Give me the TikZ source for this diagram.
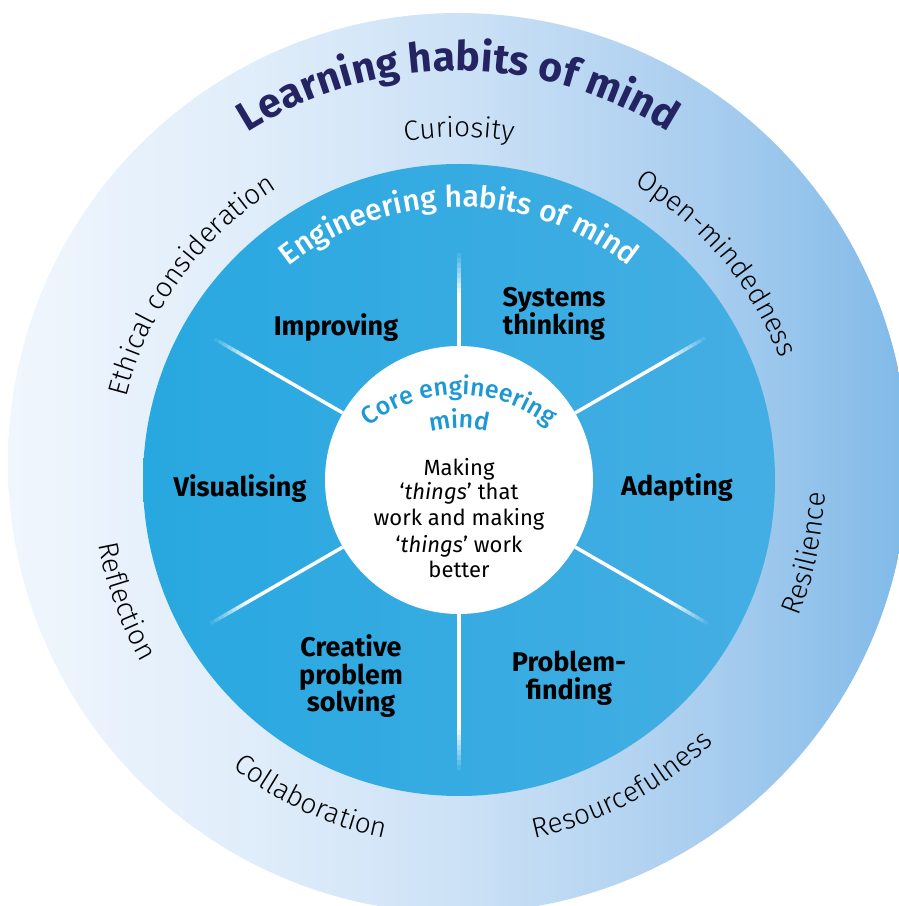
\documentclass[tikz,border=0pt]{standalone}
\usepackage{fontspec}
\setmainfont{Fira Sans}
\newfontfamily\lightfont{Fira Sans Light}
\newfontfamily\medfont{Fira Sans Medium}
\usetikzlibrary{decorations.text}
\definecolor{navy}{RGB}{37,36,98}
\definecolor{coreblue}{RGB}{28,152,213}
\definecolor{engL}{RGB}{40,168,224}
\definecolor{engR}{RGB}{68,174,227}
\definecolor{ringA}{RGB}{240,246,253}
\definecolor{ringB}{RGB}{224,237,250}
\definecolor{ringC}{RGB}{205,226,246}
\definecolor{ringD}{RGB}{170,206,239}
\definecolor{ringE}{RGB}{128,186,232}
\pgfdeclarehorizontalshading{ringshade}{100bp}{color(0bp)=(ringA); color(25bp)=(ringA); color(38.4bp)=(ringB); color(49.8bp)=(ringC); color(63.4bp)=(ringD); color(75bp)=(ringE); color(100bp)=(ringE)}
\tikzset{
  spoke/.style={draw=white, line width=3.5pt, line cap=butt},
  seglabel/.style={anchor=base, inner sep=0pt, font=\bfseries\fontsize{27}{28}\selectfont, text=black},
  bodyline/.style={anchor=base, inner sep=0pt, font=\fontsize{22}{25}\selectfont, text=black},
}
\begin{document}
\begin{tikzpicture}[x=1pt,y=1pt]
\useasboundingbox (0,0) rectangle (899,906);
\clip (0,0) rectangle (899,906);
\coordinate (O1) at (458,443);
\coordinate (O2) at (459,426);
\coordinate (O3) at (459,366);
% discs
\shade[shading=ringshade] (O1) circle[radius=450];
\shade[left color=engL, right color=engR] (O2) circle[radius=316];
% spokes
\begin{scope}[shift={(459,426)}]
\foreach \a/\re in {90/227,30/284,-30/287,-90/290,150/282,210/287}{
  \pgfmathsetmacro\rs{\re-40}
  \draw[spoke] (\a:134) -- (\a:\rs);
  \foreach \k in {0,...,7}{
    \pgfmathsetmacro\op{1-(\k+1)/9}
    \pgfmathsetmacro\ra{\rs+\k*5}
    \pgfmathsetmacro\rb{\ra+5}
    \draw[spoke, draw opacity=\op] (\a:\ra) -- (\a:\rb);
  }
}
\end{scope}
\fill[white] (O2) circle[radius=134];
% title
\path[decorate, decoration={text along path, text align=center, text color=navy,
  text={|\bfseries\fontsize{41}{41}\selectfont|Learning habits of mind}}]
  (O1) ++(150:392) arc[start angle=150, end angle=30, radius=392];
% outer ring labels (upper, clockwise)
\path[decorate, decoration={text along path, text align=center, text color=black,
  text={|\lightfont\fontsize{28}{28}\selectfont|Curiosity}}]
  (O2) ++(140:343) arc[start angle=140, end angle=40, radius=343];
\path[decorate, decoration={text along path, text align=center, text color=black,
  text={|\lightfont\fontsize{28}{28}\selectfont|Ethical consideration}}]
  (O2) ++(194:343) arc[start angle=194, end angle=94, radius=343];
\path[decorate, decoration={text along path, text align=center, text color=black,
  text={|\lightfont\fontsize{28}{28}\selectfont|Open-mindedness}}]
  (O2) ++(90:343) arc[start angle=90, end angle=-10, radius=343];
% outer ring labels (lower, counter-clockwise)
\path[decorate, decoration={text along path, text align=center, text color=black,
  text={|\lightfont\fontsize{28}{28}\selectfont|Resilience}}]
  (O2) ++(-52:366) arc[start angle=-52, end angle=28, radius=366];
\path[decorate, decoration={text along path, text align=center, text color=black,
  text={|\lightfont\fontsize{28}{28}\selectfont|Reflection}}]
  (O2) ++(160:366) arc[start angle=160, end angle=240, radius=366];
\path[decorate, decoration={text along path, text align=center, text color=black,
  text={|\lightfont\fontsize{28}{28}\selectfont|Collaboration}}]
  (O2) ++(205:366) arc[start angle=205, end angle=285, radius=366];
\path[decorate, decoration={text along path, text align=center, text color=black,
  text={|\lightfont\fontsize{28}{28}\selectfont|Resourcefulness}}]
  (O2) ++(253:366) arc[start angle=253, end angle=343, radius=366];
% engineering habits title
\path[decorate, decoration={text along path, text align=center, text color=white,
  text={|\medfont\fontsize{30}{30}\selectfont|Engineering habits of mind}}]
  (O2) ++(150:273) arc[start angle=150, end angle=30, radius=273];
% core title
\path[decorate, decoration={text along path, text align=center, text color=coreblue,
  text={|\medfont\fontsize{25}{25}\selectfont|Core engineering}}]
  (O3) ++(170:145) arc[start angle=170, end angle=10, radius=145];
\path[decorate, decoration={text along path, text align=center, text color=coreblue,
  text={|\medfont\fontsize{25}{25}\selectfont|mind}}]
  (O3) ++(150:112) arc[start angle=150, end angle=30, radius=112];
% segment labels
\node[seglabel] (improving) at (336,570) {Improving};
\node[seglabel] (systems1) at (554,599) {Systems};
\node[seglabel] (systems2) at (554,571) {thinking};
\node[seglabel] (visual) at (240,409) {Visualising};
\node[seglabel] (adapt) at (677,410) {Adapting};
\node[seglabel] (creative1) at (351,249) {Creative};
\node[seglabel] (creative2) at (351,221) {problem};
\node[seglabel] (creative3) at (351,194) {solving};
\node[seglabel] (probfind1) at (569,234) {Problem-};
\node[seglabel] (probfind2) at (569,206) {finding};
% core body text
\node[bodyline] (body1) at (459,430) {Making};
\node[bodyline] (body2) at (459,406) {‘\textit{things}’ that};
\node[bodyline] (body3) at (459,380) {work and making};
\node[bodyline] (body4) at (459,353) {‘\textit{things}’ work};
\node[bodyline] (body5) at (459,328) {better};
\end{tikzpicture}
\end{document}
